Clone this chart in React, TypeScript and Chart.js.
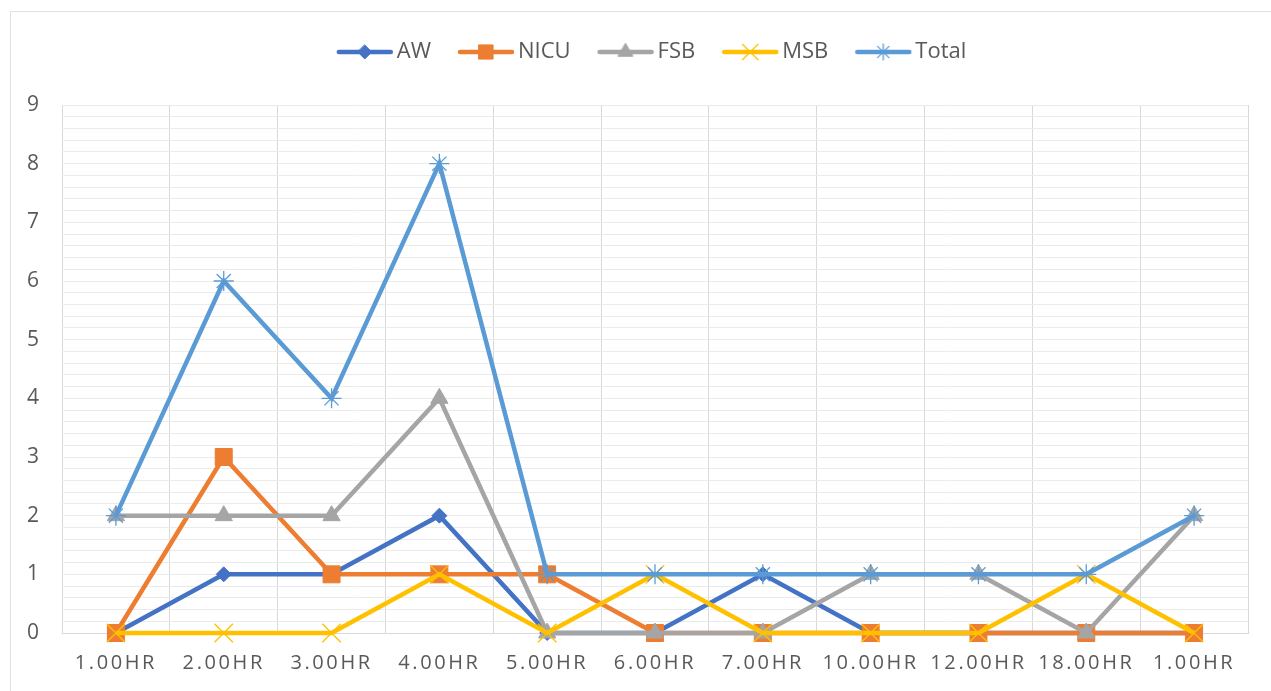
import React, { useEffect, useRef } from "react";
import { Chart, registerables } from "chart.js";

Chart.register(...registerables);

const categories = ["1.00HR", "2.00HR", "3.00HR", "4.00HR", "5.00HR", "6.00HR", "7.00HR", "10.00HR", "12.00HR", "18.00HR", "1.00HR"];
const awValues = [0, 1, 1, 2, 0, 0, 1, 0, 0, 0, 0];
const nicuValues = [0, 3, 1, 1, 1, 0, 0, 0, 0, 0, 0];
const fsbValues = [2, 2, 2, 4, 0, 0, 0, 1, 1, 0, 2];
const msbValues = [0, 0, 0, 1, 0, 1, 0, 0, 0, 1, 0];
const totalValues = [2, 6, 4, 8, 1, 1, 1, 1, 1, 1, 2];
const seriesNames = ["AW", "NICU", "FSB", "MSB", "Total"];

const COLORS = ["#4472C4", "#ED7D31", "#A5A5A5", "#FFC000", "#5B9BD5"];
const STYLES: any[] = [
  { pointStyle: "rectRot", radius: 7.5, border: 1, legendR: 7 },
  { pointStyle: "rect", radius: 12, border: 1, legendR: 10 },
  { pointStyle: "triangle", radius: 10, border: 1, legendR: 8.5 },
  { pointStyle: "crossRot", radius: 13, border: 1.3, legendR: 11 },
  { pointStyle: "star", radius: 10, border: 1.3, legendR: 8 },
];
const FONT = "'Open Sans', 'Liberation Sans', sans-serif";
const TEXT = "#595959";

function drawMarker(ctx: CanvasRenderingContext2D, style: string, r: number, x: number, y: number) {
  ctx.beginPath();
  const s = r * Math.SQRT1_2;
  if (style === "rectRot") {
    ctx.moveTo(x, y - r); ctx.lineTo(x + r, y); ctx.lineTo(x, y + r); ctx.lineTo(x - r, y); ctx.closePath();
    ctx.fill(); ctx.stroke();
  } else if (style === "rect") {
    ctx.rect(x - s, y - s, 2 * s, 2 * s); ctx.fill(); ctx.stroke();
  } else if (style === "triangle") {
    const h = r * 0.866;
    ctx.moveTo(x, y - r); ctx.lineTo(x + h, y + r / 2); ctx.lineTo(x - h, y + r / 2); ctx.closePath();
    ctx.fill(); ctx.stroke();
  } else if (style === "crossRot") {
    ctx.moveTo(x - s, y - s); ctx.lineTo(x + s, y + s); ctx.moveTo(x + s, y - s); ctx.lineTo(x - s, y + s); ctx.stroke();
  } else if (style === "star") {
    ctx.moveTo(x - s, y - s); ctx.lineTo(x + s, y + s); ctx.moveTo(x + s, y - s); ctx.lineTo(x - s, y + s);
    ctx.moveTo(x, y - r); ctx.lineTo(x, y + r); ctx.moveTo(x - r, y); ctx.lineTo(x + r, y); ctx.stroke();
  }
}

function makeLegendImage(i: number): HTMLCanvasElement {
  const c = document.createElement("canvas");
  c.width = 58; c.height = 24;
  const ctx = c.getContext("2d")!;
  ctx.strokeStyle = COLORS[i];
  ctx.lineWidth = 4.5;
  ctx.lineCap = "round";
  ctx.beginPath(); ctx.moveTo(3, 12); ctx.lineTo(55, 12); ctx.stroke();
  ctx.fillStyle = COLORS[i];
  ctx.lineWidth = STYLES[i].border;
  drawMarker(ctx, STYLES[i].pointStyle, STYLES[i].legendR, 29, 12);
  return c;
}

export default function App() {
  const ref = useRef<HTMLCanvasElement>(null);
  useEffect(() => {
    const images = seriesNames.map((_, i) => makeLegendImage(i));
    const values = [awValues, nicuValues, fsbValues, msbValues, totalValues];
    const datasets = seriesNames.map((name, i) => ({
      label: name,
      data: values[i],
      borderColor: COLORS[i],
      backgroundColor: COLORS[i],
      borderWidth: 4.5,
      pointStyle: STYLES[i].pointStyle,
      pointRadius: STYLES[i].radius,
      pointHoverRadius: STYLES[i].radius,
      pointBackgroundColor: COLORS[i],
      pointBorderColor: COLORS[i],
      pointBorderWidth: STYLES[i].border,
      tension: 0,
      fill: false,
      order: 5 - i,
      clip: false as any,
    }));
    const spacing = {
      id: "xLabelSpacing",
      afterDatasetsDraw(chart: any) { chart.ctx.letterSpacing = "2.6px"; },
      afterDraw(chart: any) { chart.ctx.letterSpacing = "0px"; },
    };
    const chart = new Chart(ref.current!, {
      type: "line",
      data: { labels: categories, datasets },
      plugins: [spacing],
      options: {
        responsive: false,
        animation: false,
        layout: { padding: { top: 7, left: 0, right: 23, bottom: 0 } },
        plugins: {
          tooltip: { enabled: false },
          title: { display: false },
          subtitle: {
            display: true,
            text: " ",
            weight: 100,
            font: { size: 1, lineHeight: 1 },
            padding: { top: 31, bottom: 0 },
          } as any,
          legend: {
            position: "top",
            fullSize: false,
            labels: {
              usePointStyle: true,
              pointStyleWidth: 42,
              boxHeight: 22,
              padding: 34,
              color: TEXT,
              font: { family: FONT, size: 22 },
              sort: (a: any, b: any) => a.datasetIndex - b.datasetIndex,
              generateLabels: (ch: any) => {
                const items = (Chart.defaults.plugins.legend.labels as any).generateLabels(ch);
                return items.map((it: any) => ({ ...it, pointStyle: images[it.datasetIndex] }));
              },
            },
          },
        },
        scales: {
          x: {
            type: "category",
            offset: true,
            afterFit: (s: any) => { s.height = 58; },
            grid: { offset: true, color: "#d9d9d9", lineWidth: 1, drawTicks: false },
            border: { display: true, color: "#d9d9d9" },
            ticks: {
              color: TEXT,
              font: { family: FONT, size: 20 },
              padding: 18,
              maxRotation: 0,
              autoSkip: false,
              z: 1,
            } as any,
          },
          y: {
            min: 0,
            max: 9,
            afterFit: (s: any) => { s.width = 62; },
            grid: { color: "#ebebeb", lineWidth: 1, drawTicks: false },
            border: { display: false },
            ticks: {
              stepSize: 0.2,
              autoSkip: false,
              color: TEXT,
              padding: 23,
              font: { family: FONT, size: 21 },
              callback: (v: any) => {
                const n = Number(v);
                return Math.abs(n - Math.round(n)) < 1e-6 ? String(Math.round(n)) : "";
              },
            },
          },
        },
      },
    });
    return () => chart.destroy();
  }, []);
  return (
    <div style={{ position: "absolute", left: 0, top: 0, width: 1271, height: 691, overflow: "hidden", background: "#fff" }}>
      <div style={{ position: "absolute", left: 10, top: 11, width: 1400, height: 800, border: "1px solid #e0e0e0", boxSizing: "border-box" }} />
      <canvas ref={ref} width={1271} height={691} style={{ position: "absolute", left: 0, top: 0 }} />
    </div>
  );
}
